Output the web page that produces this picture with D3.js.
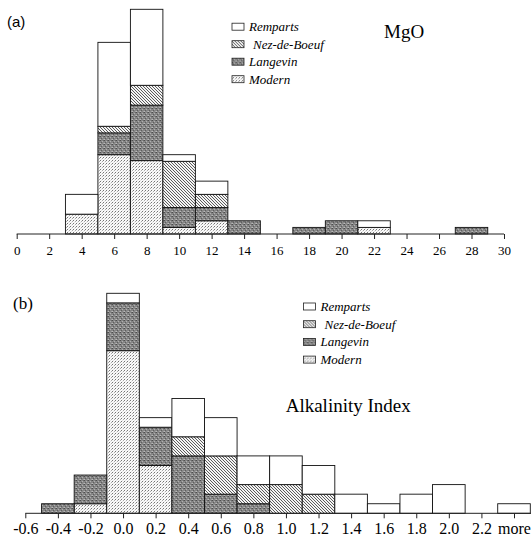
<!DOCTYPE html>
<html>
<head>
<meta charset="utf-8">
<script src="https://cdn.jsdelivr.net/npm/d3@7"></script>
<style>
  body { margin: 0; background: #fff; }
  svg { display: block; }
</style>
</head>
<body>
<script>
var width = 532,
    height = 548;

var keys = ["modern", "langevin", "nez", "remparts"];
var legendNames = ["Remparts", "Nez-de-Boeuf", "Langevin", "Modern"];
var legendKeys = ["remparts", "nez", "langevin", "modern"];

// panel (a) MgO, bins centred on the even ticks
var mgoBins     = [4, 6, 8, 10, 12, 14, 18, 20, 22, 28];
var mgoModern   = [3, 12, 11.1, 1, 2, 0, 0, 0, 1, 0];
var mgoLangevin = [0, 3.3, 8.4, 3, 2, 2, 1, 2, 0, 1];
var mgoNez      = [0, 1, 3, 7, 2, 0, 0, 0, 0, 0];
var mgoRemparts = [3, 12.7, 11.5, 1, 2, 0, 0, 0, 1, 0];
var mgoTicks = d3.range(0, 31, 2);

// panel (b) alkalinity index, "more" sits at 2.4
var alkBins     = [-0.4, -0.2, 0.0, 0.2, 0.4, 0.6, 0.8, 1.0, 1.2, 1.4, 1.6, 1.8, 2.0, 2.2, 2.4];
var alkModern   = [0, 1, 17, 5, 0, 0, 0, 0, 0, 0, 0, 0, 0, 0, 0];
var alkLangevin = [1, 3, 5, 4, 6, 2, 1, 0, 0, 0, 0, 0, 0, 0, 0];
var alkNez      = [0, 0, 0, 0, 2, 4, 2, 3, 2, 0, 0, 0, 0, 0, 0];
var alkRemparts = [0, 0, 1, 1, 4, 4, 3, 3, 3, 2, 1, 2, 3, 0, 1];
var alkTicks = d3.range(16).map(function(i) { return Math.round((-0.6 + i * 0.2) * 10) / 10; });

var svg = d3.select("body").append("svg")
    .attr("width", width)
    .attr("height", height);

// *****
// PATTERNS
// *****
var defs = svg.append("defs");

var pNez = defs.append("pattern").attr("id", "p-nez")
    .attr("patternUnits", "userSpaceOnUse").attr("width", 3).attr("height", 3);
pNez.append("rect").attr("width", 3).attr("height", 3).attr("fill", "#f4f4f4");
pNez.append("path").attr("d", "M-1,-1L4,4M-1,2L1,4M2,-1L4,1")
    .attr("stroke", "#333").attr("stroke-width", 0.8);

var pMod = defs.append("pattern").attr("id", "p-modern")
    .attr("patternUnits", "userSpaceOnUse").attr("width", 3).attr("height", 3);
pMod.append("rect").attr("width", 3).attr("height", 3).attr("fill", "#fafafa");
pMod.append("path").attr("d", "M0.4,2.6L2.2,0.8")
    .attr("stroke", "#444").attr("stroke-width", 0.75);

var pLan = defs.append("pattern").attr("id", "p-langevin")
    .attr("patternUnits", "userSpaceOnUse").attr("width", 4).attr("height", 4);
pLan.append("rect").attr("width", 4).attr("height", 4).attr("fill", "#858585");
[[0, 0, "#4e4e4e"], [2, 1, "#b0b0b0"], [1, 2, "#5e5e5e"], [3, 3, "#a2a2a2"], [3, 0, "#686868"], [0, 3, "#bababa"]]
  .forEach(function(c) {
    pLan.append("rect").attr("x", c[0]).attr("y", c[1]).attr("width", 1).attr("height", 1).attr("fill", c[2]);
  });

var fills = {
  modern: "url(#p-modern)",
  langevin: "url(#p-langevin)",
  nez: "url(#p-nez)",
  remparts: "#fff"
};

// *****
// DRAW ONE PANEL
// *****
function drawPanel(opts) {
  var rows = opts.bins.map(function(b, i) {
    return { bin: b, modern: opts.modern[i], langevin: opts.langevin[i], nez: opts.nez[i], remparts: opts.remparts[i] };
  });
  var series = d3.stack().keys(keys)(rows);

  var x = d3.scaleLinear().domain(opts.xDomain).range(opts.xRange);
  var y = d3.scaleLinear().domain(opts.yDomain).range(opts.yRange);
  var half = opts.binWidth / 2;

  var g = svg.append("g");

  g.selectAll("g.series")
    .data(series)
    .enter().append("g")
      .attr("class", "series")
      .attr("fill", function(d) { return fills[d.key]; })
    .selectAll("rect")
    .data(function(d) { return d.filter(function(v) { return v[1] - v[0] > 0; }); })
    .enter().append("rect")
      .attr("x", function(d) { return x(d.data.bin - half); })
      .attr("width", function(d) { return x(d.data.bin + half) - x(d.data.bin - half); })
      .attr("y", function(d) { return y(d[1]); })
      .attr("height", function(d) { return y(d[0]) - y(d[1]); })
      .attr("stroke", "#111")
      .attr("stroke-width", 0.9);

  var axis = d3.axisBottom(x)
    .tickValues(opts.ticks)
    .tickSize(5)
    .tickPadding(opts.tickPadding)
    .tickFormat(opts.tickFormat);

  var ax = g.append("g")
    .attr("transform", "translate(0," + opts.yRange[0] + ")")
    .call(axis);
  ax.select(".domain").remove();
  ax.selectAll("line").attr("stroke", "#222");
  ax.append("line")
    .attr("x1", opts.xRange[0]).attr("x2", opts.axisEnd)
    .attr("stroke", "#222");
  ax.selectAll("text")
    .attr("fill", "#000")
    .style("font-family", "'Liberation Serif', 'Times New Roman', serif")
    .style("font-size", opts.tickFont + "px");

  // legend
  var leg = g.append("g")
    .selectAll("g")
    .data(legendKeys)
    .enter().append("g")
      .attr("transform", function(d, i) { return "translate(" + opts.legendX + "," + (opts.legendY + i * opts.legendStep) + ")"; });
  leg.append("rect")
    .attr("x", 0).attr("y", -3.5)
    .attr("width", 12).attr("height", 7)
    .attr("fill", function(d) { return fills[d]; })
    .attr("stroke", "#222").attr("stroke-width", 0.8);
  leg.append("text")
    .attr("x", function(d) { return d === "nez" ? 21 : 17; })
    .attr("dy", "0.35em")
    .style("font-family", "'Liberation Serif', 'Times New Roman', serif")
    .style("font-style", "italic")
    .style("font-size", "13px")
    .text(function(d) { return legendNames[legendKeys.indexOf(d)]; });

  g.append("text")
    .attr("x", opts.titleX).attr("y", opts.titleY)
    .attr("dy", "0.35em")
    .style("font-family", "'Liberation Serif', 'Times New Roman', serif")
    .style("font-size", "19px")
    .text(opts.title);

  g.append("text")
    .attr("x", opts.tagX).attr("y", opts.tagY)
    .attr("dy", "0.35em")
    .style("font-family", opts.tagFont)
    .style("font-size", opts.tagSize + "px")
    .text(opts.tag);
}

drawPanel({
  bins: mgoBins, modern: mgoModern, langevin: mgoLangevin, nez: mgoNez, remparts: mgoRemparts,
  xDomain: [0, 30], xRange: [16.7, 504], axisEnd: 504, binWidth: 2,
  yDomain: [0, 34], yRange: [234, 9.3],
  ticks: mgoTicks, tickFormat: d3.format("d"), tickFont: 13, tickPadding: 7,
  legendX: 232, legendY: 26.7, legendStep: 17.5,
  title: "MgO", titleX: 384, titleY: 31.7,
  tag: "(a)", tagX: 7, tagY: 21.7, tagFont: "'Liberation Sans', Arial, sans-serif", tagSize: 15
});

drawPanel({
  bins: alkBins, modern: alkModern, langevin: alkLangevin, nez: alkNez, remparts: alkRemparts,
  xDomain: [-0.6, 2.4], xRange: [25.3, 514], axisEnd: 531, binWidth: 0.2,
  yDomain: [0, 23], yRange: [513.3, 293.3],
  ticks: alkTicks,
  tickFormat: function(d) { return d > 2.3 ? "more" : d.toFixed(1); },
  tickFont: 16, tickPadding: 4,
  legendX: 303.5, legendY: 306.5, legendStep: 17.7,
  title: "Alkalinity Index", titleX: 285.7, titleY: 405,
  tag: "(b)", tagX: 13, tagY: 303.3, tagFont: "'Liberation Serif', 'Times New Roman', serif", tagSize: 17
});
</script>
</body>
</html>
